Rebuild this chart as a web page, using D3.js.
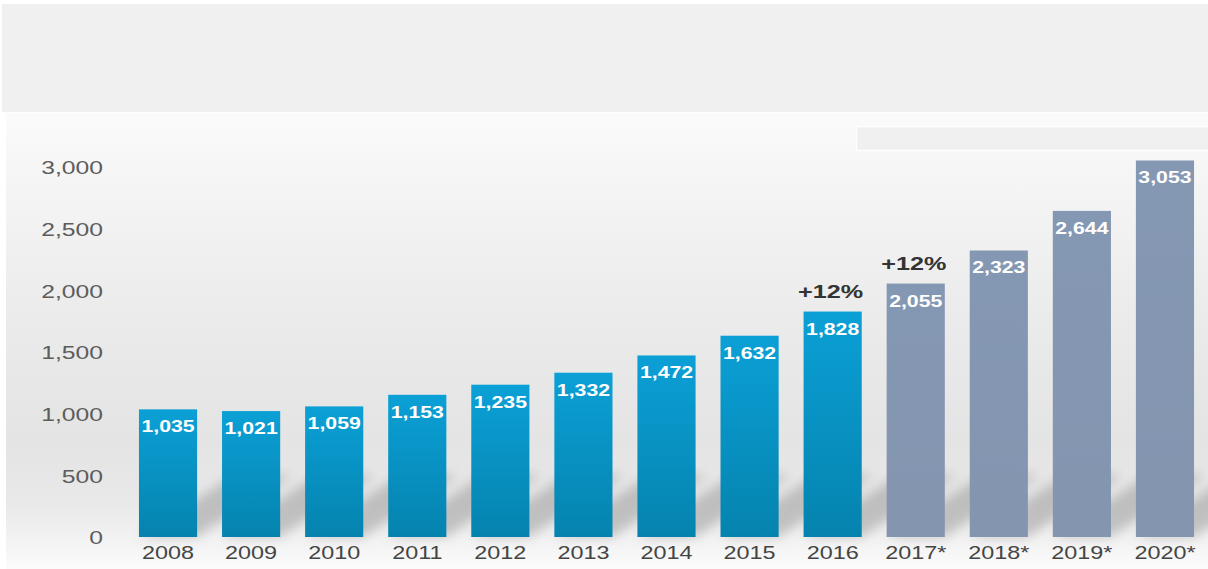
<!DOCTYPE html>
<html>
<head>
<meta charset="utf-8">
<script src="https://cdn.jsdelivr.net/npm/d3@7"></script>
<style>
  html, body { margin: 0; padding: 0; background: #ffffff; }
  svg { display: block; }
  text { font-family: "Liberation Sans", Arial, Helvetica, sans-serif; }
</style>
</head>
<body>
<svg id="chart" width="1208" height="569"></svg>
<script>
// Annual figures, actual (2008–2016) and forecast (2017*–2020*)
const years = ["2008", "2009", "2010", "2011", "2012", "2013", "2014", "2015", "2016", "2017*", "2018*", "2019*", "2020*"];
const values = [1035, 1021, 1059, 1153, 1235, 1332, 1472, 1632, 1828, 2055, 2323, 2644, 3053];
const growth = [null, null, null, null, null, null, null, null, "+12%", "+12%", null, null, null];
const yTicks = [0, 500, 1000, 1500, 2000, 2500, 3000];

const W = 1208, H = 569;
const svg = d3.select("#chart");
const defs = svg.append("defs");

// Background panel gradient
const bg = defs.append("linearGradient").attr("id", "bgGrad")
  .attr("x1", 0).attr("y1", 0).attr("x2", 0).attr("y2", 1);
[["0%", "#fbfbfb"], ["12%", "#f6f6f6"], ["45%", "#ebebeb"], ["72%", "#e4e4e4"],
 ["86%", "#e9e9e9"], ["94%", "#f3f3f3"], ["100%", "#fbfbfb"]]
  .forEach(([o, c]) => bg.append("stop").attr("offset", o).attr("stop-color", c));

// Bar fills
const blue = defs.append("linearGradient").attr("id", "blueGrad")
  .attr("x1", 0).attr("y1", 0).attr("x2", 0).attr("y2", 1);
blue.append("stop").attr("offset", "0%").attr("stop-color", "#0ba0d6");
blue.append("stop").attr("offset", "100%").attr("stop-color", "#0583ae");

const grey = defs.append("linearGradient").attr("id", "greyGrad")
  .attr("x1", 0).attr("y1", 0).attr("x2", 0).attr("y2", 1);
grey.append("stop").attr("offset", "0%").attr("stop-color", "#8598b3");
grey.append("stop").attr("offset", "100%").attr("stop-color", "#8395af");

defs.append("filter").attr("id", "soft").attr("x", "-50%").attr("y", "-50%")
  .attr("width", "200%").attr("height", "200%")
  .append("feGaussianBlur").attr("stdDeviation", 6);

// Page frame: grey header band and chart panel
svg.append("rect").attr("x", 0).attr("y", 0).attr("width", W).attr("height", H).attr("fill", "#ffffff");
svg.append("rect").attr("x", 2).attr("y", 4).attr("width", W - 2).attr("height", 108).attr("fill", "#f0f0f0");
svg.append("rect").attr("x", 6).attr("y", 113).attr("width", W - 6).attr("height", H - 113).attr("fill", "url(#bgGrad)");

// Empty legend box at top right
svg.append("rect").attr("x", 856.5).attr("y", 126.5).attr("width", 360).attr("height", 24)
  .attr("fill", "#f0f0f0").attr("stroke", "#ffffff").attr("stroke-width", 1.5);

// Scales
const x = d3.scaleBand().domain(years).range([126.5, 1206.5])
  .paddingInner(0.3).paddingOuter(0.15);
const y = d3.scaleLinear().domain([0, 3000]).range([537, 167]);
const base = y(0);
const isForecast = d => d.endsWith("*");
const data = years.map((yr, i) => ({ year: yr, value: values[i], growth: growth[i] }));

// Cast shadows behind the bars
svg.append("g").attr("filter", "url(#soft)")
  .selectAll("path").data(data).join("path")
  .attr("d", d => {
    const x0 = x(d.year), x1 = x0 + x.bandwidth();
    return `M${x0},${base}L${x1},${base}L${x1 + 95},${base - 62}L${x0 + 95},${base - 62}Z`;
  })
  .attr("fill", "#8a8a8a").attr("opacity", 0.45);

// Y axis
const SX = 1.3;
const yAxis = svg.append("g").attr("transform", "translate(103,0)")
  .call(d3.axisLeft(y).tickValues(yTicks).tickFormat(d3.format(",")).tickSize(0).tickPadding(0));
yAxis.select(".domain").remove();
yAxis.selectAll("text")
  .attr("x", 0).attr("dy", "0.36em")
  .attr("transform", `scale(${SX},1)`)
  .attr("fill", "#5c5c5c").style("font-size", "19px")
  .style("font-family", "'Liberation Sans', Arial, sans-serif");

// Bars
svg.append("g").selectAll("rect").data(data).join("rect")
  .attr("x", d => x(d.year)).attr("width", x.bandwidth())
  .attr("y", d => y(d.value)).attr("height", d => base - y(d.value))
  .attr("fill", d => isForecast(d.year) ? "url(#greyGrad)" : "url(#blueGrad)");

// X axis
const xAxis = svg.append("g").attr("transform", `translate(0,${base})`)
  .call(d3.axisBottom(x).tickSize(0).tickPadding(9));
xAxis.select(".domain").remove();
xAxis.selectAll("text")
  .attr("transform", `scale(${SX},1)`)
  .attr("fill", "#454545").style("font-size", "18px")
  .style("font-family", "'Liberation Sans', Arial, sans-serif");

// Value labels inside the bars
svg.append("g").selectAll("text").data(data).join("text")
  .attr("transform", d => `translate(${x(d.year) + x.bandwidth() / 2},${y(d.value) + 23}) scale(1.33,1)`)
  .attr("text-anchor", "middle")
  .attr("fill", "#ffffff").style("font-size", "16px").style("font-weight", "bold")
  .text(d => d3.format(",")(d.value));

// Growth annotations above selected bars
svg.append("g").selectAll("text").data(data.filter(d => d.growth)).join("text")
  .attr("transform", d => `translate(${x(d.year) + x.bandwidth() / 2 - 2},${y(d.value) - 14}) scale(1.4,1)`)
  .attr("text-anchor", "middle")
  .attr("fill", "#333333").style("font-size", "18px").style("font-weight", "bold")
  .text(d => d.growth);
</script>
</body>
</html>
